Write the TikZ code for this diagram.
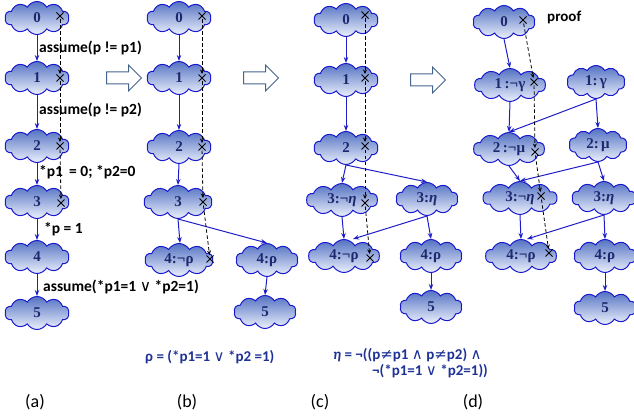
\documentclass[tikz,border=0pt]{standalone}
\usepackage{fontspec}
\setmainfont{Carlito}
\newfontfamily\serf{Liberation Serif}
\newfontfamily\sym{DejaVu Sans}
\usetikzlibrary{shapes.symbols,shapes.arrows,shapes.misc,arrows.meta}
\definecolor{cloudline}{RGB}{25,25,205}
\definecolor{cloudtop}{RGB}{85,115,195}
\definecolor{cloudbot}{RGB}{235,240,252}
\definecolor{edgeblue}{RGB}{30,30,200}
\definecolor{navy}{RGB}{30,40,110}
\definecolor{formblue}{RGB}{30,50,150}
\definecolor{hollow}{RGB}{70,100,140}
\newcommand{\symb}[1]{{\sym\mdseries #1}}
\tikzset{
  cl/.style={cloud, cloud puffs=10, cloud puff arc=120, aspect=2.1, draw=cloudline, line width=1pt,
    top color=cloudtop, bottom color=cloudbot, minimum width=64pt, minimum height=33pt, inner sep=0pt,
    font=\serf\bfseries\fontsize{15}{17}\selectfont, text=navy},
  clw/.style={cl, minimum width=71pt},
  edge/.style={draw=edgeblue, line width=1pt, -{Stealth[length=6pt,width=4.5pt]}},
  dsh/.style={draw=black, line width=0.8pt, dash pattern=on 3.5pt off 2.5pt, -{Stealth[length=4.5pt,width=4pt]}, shorten >=0.5pt},
  xm/.style={cross out, draw=black, line width=1pt, minimum size=6pt, inner sep=0pt},
  lab/.style={font=\bfseries\fontsize{15.5}{17}\selectfont, anchor=west, inner sep=0pt},
  form/.style={font=\bfseries\fontsize{15}{16}\selectfont, text=formblue, anchor=west, inner sep=0pt, align=left},
  capt/.style={font=\fontsize{18}{20}\selectfont, inner sep=0pt},
  harrow/.style={single arrow, draw=hollow, line width=1pt, fill=white, minimum height=35pt,
    inner xsep=0pt, inner ysep=5.5pt, single arrow head extend=7pt}
}
\begin{document}
\begin{tikzpicture}[x=1pt,y=-1pt]
\useasboundingbox (0,0) rectangle (634,417);
% ---------- (a)
\node[cl] (a0) at (37,18) {0};
\node[cl] (a1) at (37,78) {1};
\node[cl] (a2) at (37,146) {2};
\node[cl] (a3) at (37,202) {3};
\node[cl] (a4) at (37,257) {4};
\node[cl] (a5) at (37,313) {5};
\draw[edge] (a0.south) -- (a1.north);
\draw[edge] (a1.south) -- (a2.north);
\draw[edge] (a2.south) -- (a3.north);
\draw[edge] (a3.south) -- (a4.north);
\draw[edge] (a4.south) -- (a5.north);
\node[xm] (ax0) at (60,16) {};
\node[xm] (ax1) at (60,78) {};
\node[xm] (ax2) at (60,146) {};
\node[xm] (ax3) at (61,203) {};
\draw[dsh] (ax0) -- (ax1);
\draw[dsh] (ax1) -- (ax2);
\draw[dsh] (ax2) -- (ax3);
\node[lab] (la1) at (39,48) {assume(p != p1)};
\node[lab] (la2) at (39,110) {assume(p != p2)};
\node[lab] (la3) at (39,172) {*p1\, = 0; *p2=0};
\node[lab] (la4) at (44,229) {*p = 1};
\node[lab] (la5) at (43,287) {assume(*p1=1 \symb{∨} *p2=1)};
% hollow arrows
\node[harrow] (h1) at (121,78) {};
\node[harrow] (h2) at (258,78) {};
\node[harrow] (h3) at (425,80) {};
% ---------- (b)
\node[cl] (b0) at (179,18) {0};
\node[cl] (b1) at (179,78) {1};
\node[cl] (b2) at (179,147) {2};
\node[cl, minimum width=68pt] (b3) at (178,202) {3};
\node[cl, minimum width=68pt] (b4n) at (179,260) {4:¬ρ};
\node[cl, minimum width=62pt] (b4) at (267,260) {4:ρ};
\node[cl, minimum width=62pt] (b5) at (265,312) {5};
\draw[edge] (b0.south) -- (b1.north);
\draw[edge] (b1.south) -- (b2.north);
\draw[edge] (b2.south) -- (b3.north);
\draw[edge] (b3.south) -- ([xshift=1pt]b4n.north);
\draw[edge] (b3.south) -- (b4.north);
\draw[edge] (b4.south) -- (b5.north);
\node[xm] (bx0) at (202,16) {};
\node[xm] (bx1) at (202,78) {};
\node[xm] (bx2) at (202,147) {};
\node[xm] (bx3) at (203,202) {};
\node[xm] (bx4) at (210,259) {};
\draw[dsh] (bx0) -- (bx1);
\draw[dsh] (bx1) -- (bx2);
\draw[dsh] (bx2) -- (bx3);
\draw[dsh] (bx3) -- (bx4);
\node[form] (rho) at (145,357) {ρ = (*p1=1 \symb{∨} *p2 =1)};
% ---------- (c)
\node[cl] (c0) at (346,20) {0};
\node[cl] (c1) at (346,80) {1};
\node[cl] (c2) at (346,148) {2};
\node[clw] (c3n) at (342,200) {3:¬\textit{η}};
\node[cl, minimum width=62pt] (c3) at (427,199) {3:\textit{η}};
\node[clw] (c4n) at (344,256) {4:¬ρ};
\node[cl, minimum width=62pt] (c4) at (431,256) {4:ρ};
\node[cl, minimum width=62pt] (c5) at (431,307) {5};
\draw[edge] (c0.south) -- (c1.north);
\draw[edge] (c1.south) -- (c2.north);
\draw[edge] (c2.south) -- (c3n.north);
\draw[edge] (c2.south) -- (c3.north);
\draw[edge] (c3n.south) -- (c4n.north);
\draw[edge] (c3.south) -- ([xshift=9pt]c4n.north);
\draw[edge] (c3.south) -- (c4.north);
\draw[edge] (c4.south) -- (c5.north);
\node[xm] (cx0) at (365,15) {};
\node[xm] (cx1) at (365,78) {};
\node[xm] (cx2) at (365,146) {};
\node[xm] (cx3) at (365,203) {};
\node[xm] (cx4) at (370,258) {};
\draw[dsh] (cx0) -- (cx1);
\draw[dsh] (cx1) -- (cx2);
\draw[dsh] (cx2) -- (cx3);
\draw[dsh] (cx3) -- (cx4);
\node[form, anchor=north west] (eta) at (333,348) {\textit{η} = ¬((p\symb{≠}p1 \symb{∧} p\symb{≠}p2) \symb{∧}\\\hspace*{39pt}¬(*p1=1 \symb{∨} *p2=1))};
% ---------- (d)
\node[cl, minimum width=62pt] (d0) at (504,22) {0};
\node[lab, font=\bfseries\fontsize{15}{17}\selectfont] (proof) at (547,17) {proof};
\node[clw] (d1n) at (510,85) {1\,:¬γ};
\node[cl, minimum width=58pt] (d1) at (596,82) {1:\,γ};
\node[clw] (d2n) at (509,149) {2\,:¬μ};
\node[cl, minimum width=58pt] (d2) at (598,145) {2:\,μ};
\node[cl, minimum width=74pt] (d3n) at (520,198) {3:¬\textit{η}};
\node[cl, minimum width=64pt] (d3) at (604,198) {3:\textit{η}};
\node[clw] (d4n) at (521,256) {4:¬ρ};
\node[cl, minimum width=62pt] (d4) at (605,256) {4:ρ};
\node[cl, minimum width=62pt] (d5) at (605,308) {5};
\draw[edge] (d0.south) -- (d1n.north);
\draw[edge] (d1n.south) -- (d2n.north);
\draw[edge] (d1.south) -- (d2n.north);
\draw[edge] (d1.south) -- (d2.north);
\draw[edge] (d2n.south) -- (d3n.north);
\draw[edge] (d2.south) -- (d3n.north);
\draw[edge] (d2.south) -- (d3.north);
\draw[edge] (d3n.south) -- (d4n.north);
\draw[edge] (d3.south) -- ([xshift=6pt]d4n.north);
\draw[edge] (d3.south) -- (d4.north);
\draw[edge] (d4.south) -- (d5.north);
\node[xm] (dx0) at (523,20) {};
\node[xm] (dx1) at (534,82) {};
\node[xm] (dx2) at (535,152) {};
\node[xm] (dx3) at (541,196) {};
\node[xm] (dx4) at (549,253) {};
\draw[dsh] (dx0) -- (dx1);
\draw[dsh] (dx1) -- (dx2);
\draw[dsh] (dx2) -- (dx3);
\draw[dsh] (dx3) -- (dx4);
% ---------- captions
\node[capt] (ca) at (35,402) {(a)};
\node[capt] (cb) at (187,402) {(b)};
\node[capt] (cc) at (320,402) {(c)};
\node[capt] (cd) at (473,402) {(d)};
\end{tikzpicture}
\end{document}
